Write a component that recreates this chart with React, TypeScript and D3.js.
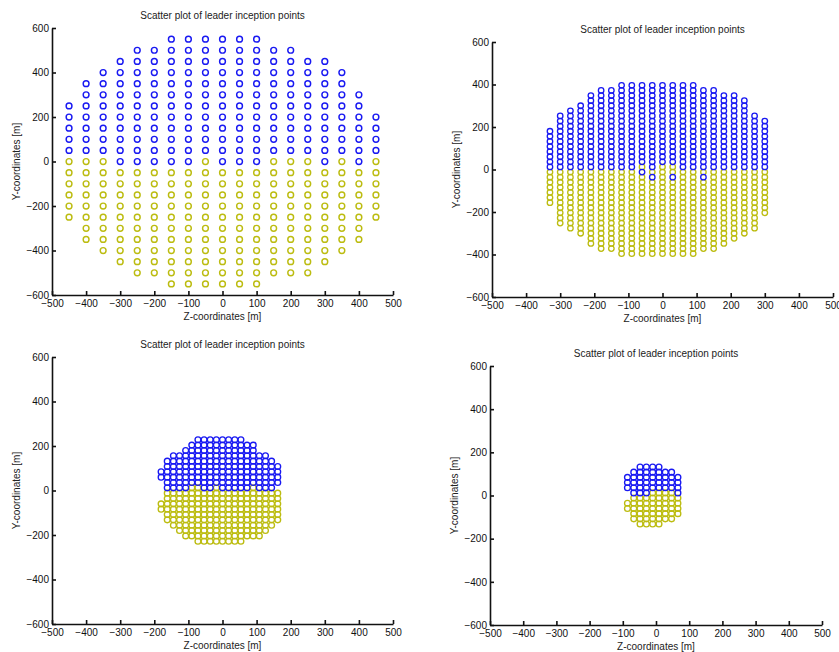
import { useEffect, useRef } from "react";
import * as d3 from "d3";

const chartTitle = "Scatter plot of leader inception points";
const xLabel = "Z-coordinates [m]";
const yLabel = "Y-coordinates [m]";
const zTicks = [-500, -400, -300, -200, -100, 0, 100, 200, 300, 400, 500];
const yTicks = [-600, -400, -200, 0, 200, 400, 600];

// grids: one string per row, one char per column ("b" blue, "y" yellow, "." none)
const p1Z = [-450, -400, -350, -300, -250, -200, -150, -100, -50, 0, 50, 100, 150, 200, 250, 300, 350, 400, 450];
const p1Y = [550, 500, 450, 400, 350, 300, 250, 200, 150, 100, 50, 0, -50, -100, -150, -200, -250, -300, -350, -400, -450, -500, -550];
const p1Grid = [
  "......bbbbbb.......",
  "....bbbbbbbbbb.....",
  "...bbbbbbbbbbbbb...",
  "..bbbbbbbbbbbbbbb..",
  ".bbbbbbbbbbbbbbbb..",
  ".bbbbbbbbbbbbbbbbb.",
  "bbbbbbbbbbbbbbbbbb.",
  "bbbbbbbbbbbbbbbbbbb",
  "bbbbbbbbbbbbbbbbbbb",
  "bbbbbbbbbbbbbbbbbbb",
  "bbbbbbbbbbbbbbbbbbb",
  "yyybbbbbybbbyyybyby",
  "yyyyyyyyyyyyyyyyyyy",
  "yyyyyyyyyyyyyyyyyyy",
  "yyyyyyyyyyyyyyyyyyy",
  "yyyyyyyyyyyyyyyyyyy",
  "yyyyyyyyyyyyyyyyyyy",
  ".yyyyyyyyyyyyyyyyy.",
  ".yyyyyyyyyyyyyyyyy.",
  "..yyyyyyyyyyyyyyy..",
  "...yyyyyyyyyyyyy...",
  "....yyyyyyyyyyy....",
  "......yyyyyy.......",
];

const p2Z = [-330, -300, -270, -240, -210, -180, -150, -120, -90, -60, -30, 0, 30, 60, 90, 120, 150, 180, 210, 240, 270, 300];
const p2Y = [396, 372, 348, 324, 300, 276, 252, 228, 204, 180, 156, 132, 108, 84, 60, 36, 12, -12, -36, -60, -84, -108, -132, -156, -180, -204, -228, -252, -276, -300, -324, -348, -372, -396];
const p2Grid = [
  ".......bbbbbbbb.......",
  ".....bbbbbbbbbbbb.....",
  "....bbbbbbbbbbbbbbb...",
  "....bbbbbbbbbbbbbbbb..",
  "...bbbbbbbbbbbbbbbbb..",
  "..bbbbbbbbbbbbbbbbbb..",
  ".bbbbbbbbbbbbbbbbbbbb.",
  ".bbbbbbbbbbbbbbbbbbbbb",
  ".bbbbbbbbbbbbbbbbbbbbb",
  "bbbbbbbbbbbbbbbbbbbbbb",
  "bbbbbbbbbbbbbbbbbbbbbb",
  "bbbbbbbbbbbbbbbbbbbbbb",
  "bbbbbbbbbbbbbbbbbbbbbb",
  "bbbbbbbbbbbbbbbbbbbbbb",
  "bbbbbbbbbbbbbbbbbbbbbb",
  "bbbbbbbbbbbbbbbbbbbbbb",
  "bbbbbbbbbybyybbbbbbbbb",
  "yyyyyyyyybyyyyyyyyyyyy",
  "yyyyyyyyyybybyybyyyyyy",
  "yyyyyyyyyyyyyyyyyyyyyy",
  "yyyyyyyyyyyyyyyyyyyyyy",
  "yyyyyyyyyyyyyyyyyyyyyy",
  "yyyyyyyyyyyyyyyyyyyyyy",
  "yyyyyyyyyyyyyyyyyyyyyy",
  ".yyyyyyyyyyyyyyyyyyyyy",
  ".yyyyyyyyyyyyyyyyyyyyy",
  ".yyyyyyyyyyyyyyyyyyyy.",
  ".yyyyyyyyyyyyyyyyyyyy.",
  "..yyyyyyyyyyyyyyyyyyy.",
  "...yyyyyyyyyyyyyyyyy..",
  "....yyyyyyyyyyyyyyy...",
  "....yyyyyyyyyyyyyy....",
  ".....yyyyyyyyyyyy.....",
  ".......yyyyyyyy.......",
];

const p3Z = [-180, -162, -144, -126, -108, -90, -72, -54, -36, -18, 0, 18, 36, 54, 72, 90, 108, 126, 144, 162];
const p3Y = [228, 204, 180, 156, 132, 108, 84, 60, 36, 12, -12, -36, -60, -84, -108, -132, -156, -180, -204, -228];
const p3Grid = [
  "......bbbbbbbb......",
  ".....bbbbbbbbbbb....",
  "....bbbbbbbbbbbb....",
  "..bbbbbbbbbbbbbbbb..",
  ".bbbbbbbbbbbbbbbbbb.",
  ".bbbbbbbbbbbbbbbbbbb",
  "bbbbbbbbbbbbbbbbbbbb",
  "bbbbbbbbbbbbbbbbbbbb",
  ".bbbbbbbbbbbbbbbbbbb",
  ".bbbbyybbybbbbbybbb.",
  ".yyyyyyyyyyyyyyyyyyy",
  ".yyyyyyyyyyyyyyyyyyy",
  "yyyyyyyyyyyyyyyyyyyy",
  "yyyyyyyyyyyyyyyyyyyy",
  ".yyyyyyyyyyyyyyyyyyy",
  ".yyyyyyyyyyyyyyyyyyy",
  "..yyyyyyyyyyyyyyyyy.",
  "...yyyyyyyyyyyyyyy..",
  "....yyyyyyyyyyyyy...",
  "......yyyyyyyy......",
];

const p4Z = [-86, -67, -48, -29, -10, 9, 28, 47, 66];
const p4Y = [132, 108, 84, 60, 36, 12, -12, -36, -60, -84, -108, -132];
const p4Grid = [
  "..bbbb...",
  ".bbbbbbb.",
  "bbbbbbbbb",
  "bbbbbbbbb",
  "bbbbbbbbb",
  ".bbbyyyyb",
  ".yyyyyyyy",
  "yyyyyyyyy",
  "yyyyyyyyy",
  ".yyyyyyyy",
  ".yyyyyyy.",
  "..yyyy...",
];

const colors: Record<string, string> = { b: "#1818f2", y: "#bcbc10" };

type Pt = { z: number; y: number; c: string };

function toPoints(zs: number[], ys: number[], grid: string[]): Pt[] {
  const pts: Pt[] = [];
  grid.forEach((row, i) => {
    for (let j = 0; j < zs.length; j++) {
      const c = row.charAt(j);
      if (c === "b" || c === "y") pts.push({ z: zs[j], y: ys[i], c });
    }
  });
  return pts;
}

const panels = [
  { x0: 52, x1: 393, y0: 28, y1: 295, r: 2.9, sw: 1.45, pts: toPoints(p1Z, p1Y, p1Grid) },
  { x0: 492, x1: 833, y0: 42, y1: 297, r: 2.75, sw: 1.3, pts: toPoints(p2Z, p2Y, p2Grid) },
  { x0: 52, x1: 393, y0: 357, y1: 624, r: 2.9, sw: 1.35, pts: toPoints(p3Z, p3Y, p3Grid) },
  { x0: 490, x1: 822, y0: 366, y1: 625, r: 2.9, sw: 1.35, pts: toPoints(p4Z, p4Y, p4Grid) },
];

export default function App() {
  const svgRef = useRef<SVGSVGElement>(null);

  useEffect(() => {
    if (!svgRef.current) return;
    const svg = d3.select(svgRef.current);
    svg.selectAll("*").remove();
    const font = "'Liberation Sans', Arial, sans-serif";

    panels.forEach((p) => {
      const xScale = d3.scaleLinear().domain([-500, 500]).range([p.x0, p.x1]);
      const yScale = d3.scaleLinear().domain([-600, 600]).range([p.y1, p.y0]);
      const g = svg.append("g");

      // yellow first, blue on top
      const ordered = p.pts.filter(d => d.c === "y").concat(p.pts.filter(d => d.c === "b"));
      g.selectAll("circle")
        .data(ordered)
        .enter()
        .append("circle")
        .attr("cx", d => xScale(d.z))
        .attr("cy", d => yScale(d.y))
        .attr("r", p.r)
        .attr("fill", "none")
        .attr("stroke", d => colors[d.c])
        .attr("stroke-width", p.sw);

      const xAxis = d3.axisBottom(xScale).tickValues(zTicks).tickSize(-4).tickSizeOuter(0).tickPadding(5);
      const yAxis = d3.axisLeft(yScale).tickValues(yTicks).tickSize(-4).tickSizeOuter(0).tickPadding(3);

      const gx = g.append("g").attr("transform", `translate(0,${p.y1})`).call(xAxis);
      const gy = g.append("g").attr("transform", `translate(${p.x0},0)`).call(yAxis);
      [gx, gy].forEach(ax => {
        ax.selectAll("path, line").attr("stroke", "#111").attr("stroke-width", 1.6);
        ax.selectAll("text").attr("fill", "#111").attr("font-size", 10).attr("font-family", font);
      });

      g.append("text")
        .attr("x", (p.x0 + p.x1) / 2)
        .attr("y", p.y0 - 12)
        .attr("dominant-baseline", "middle")
        .attr("text-anchor", "middle")
        .attr("font-size", 10)
        .attr("font-family", font)
        .attr("fill", "#222")
        .text(chartTitle);

      g.append("text")
        .attr("x", (p.x0 + p.x1) / 2)
        .attr("y", p.y1 + 22)
        .attr("dominant-baseline", "middle")
        .attr("text-anchor", "middle")
        .attr("font-size", 10)
        .attr("font-family", font)
        .attr("fill", "#222")
        .text(xLabel);

      g.append("text")
        .attr("transform", `translate(${p.x0 - 35},${(p.y0 + p.y1) / 2}) rotate(-90)`)
        .attr("dominant-baseline", "middle")
        .attr("text-anchor", "middle")
        .attr("font-size", 10)
        .attr("font-family", font)
        .attr("fill", "#222")
        .text(yLabel);
    });
  }, []);

  return (
    <svg
      ref={svgRef}
      width={839}
      height={652}
      style={{ position: "absolute", left: 0, top: 0, background: "#fff" }}
    ></svg>
  );
}
